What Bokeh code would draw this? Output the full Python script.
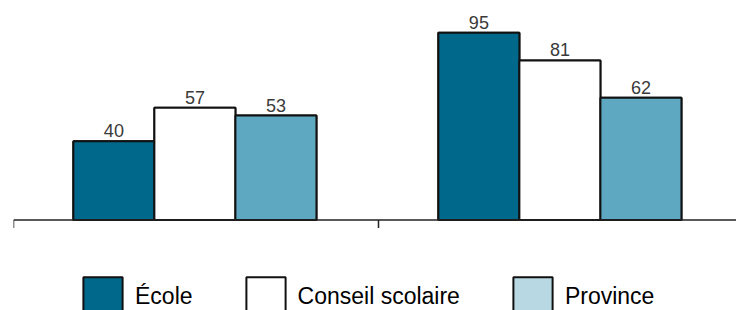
from bokeh.plotting import figure
from bokeh.models import ColumnDataSource, Range1d, Legend, LegendItem, Span
from bokeh.core.properties import value
from bokeh.embed import file_html
from bokeh.resources import INLINE

# ---- data ----
categories = ["Groupe 1", "Groupe 2"]
series = ["École", "Conseil scolaire", "Province"]
ecole = [40, 95]
conseil = [57, 81]
province = [53, 62]

values = [ecole, conseil, province]
bar_colors = ["#00688a", "#ffffff", "#5fa8c2"]
legend_colors = ["#00688a", "#ffffff", "#b8d8e4"]

BAR_W = 0.222
offsets = [-BAR_W, 0.0, BAR_W]
PX = 1.97  # pixels per value unit

p = figure(width=736, height=310, output_backend="svg", toolbar_location=None,
           x_range=Range1d(0, 723 / 365),
           y_range=Range1d(-(310 - 219.5) / PX, 219.5 / PX),
           x_axis_location=None, y_axis_location=None)
p.min_border = 0
p.min_border_left = 13
p.min_border_right = 0
p.min_border_top = 0
p.min_border_bottom = 0
p.outline_line_color = None
p.xgrid.visible = False
p.ygrid.visible = False

font = "Liberation Sans"

sources = []
for s, name in enumerate(series):
    xs = [g + 0.497 + offsets[s] for g in range(len(categories))]
    sources.append(ColumnDataSource(dict(x=xs, top=values[s], cat=categories,
                                         lbl=[str(v) for v in values[s]])))

# legend swatch renderers (drawn underneath, fully covered by the bars)
legend_items = []
for s, name in enumerate(series):
    lr = p.vbar(x="x", top="top", width=BAR_W, source=sources[s],
                fill_color=legend_colors[s], line_color="#111111", line_width=2)
    legend_items.append(LegendItem(label=name, renderers=[lr]))

for s, name in enumerate(series):
    p.vbar(x="x", top="top", width=BAR_W, source=sources[s],
           fill_color=bar_colors[s], line_color="#111111", line_width=2)
    p.text(x="x", y="top", text="lbl", source=sources[s], text_align="center",
           text_baseline="bottom", y_offset=-4, text_font_size="18px",
           text_color="#3a3a3a", text_font=value(font))

# category axis: baseline and tick marks at the category boundaries
p.add_layout(Span(location=0, dimension="width", line_color="#222222", line_width=1.5))
bounds = list(range(len(categories) + 1))
p.segment(x0=bounds, y0=[0] * len(bounds), x1=bounds, y1=[-8 / PX] * len(bounds),
          line_color="#222222", line_width=1.5)

legend = Legend(items=legend_items, orientation="horizontal", location=(65, -10),
                glyph_width=49, glyph_height=48, label_standoff=8, spacing=48,
                padding=0, margin=0, border_line_color=None,
                background_fill_alpha=0, label_text_font=font,
                label_text_font_size="23px", label_text_color="#000000")
p.add_layout(legend, "center")

open("out.html", "w").write(file_html(p, INLINE))
